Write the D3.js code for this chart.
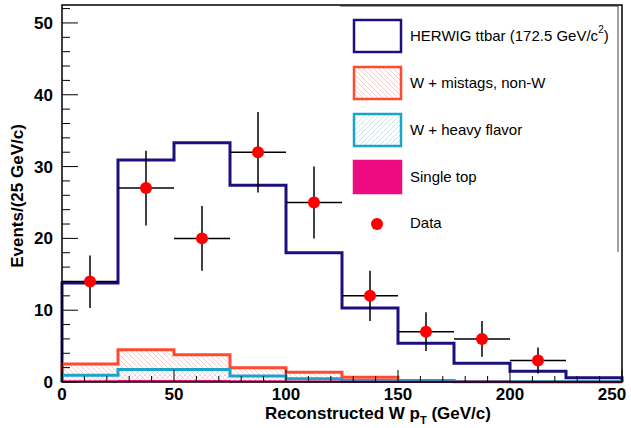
<!DOCTYPE html>
<html><head><meta charset="utf-8">
<script src="https://d3js.org/d3.v7.min.js"></script>
<style>body{margin:0;background:#fff}text{font-family:Helvetica,"Liberation Sans",Arial,sans-serif}</style>
</head><body><div id="chart"></div>
<script>
var binEdges = [0, 25, 50, 75, 100, 125, 150, 175, 200, 225, 250];
var singleTop = [0.1, 0.15, 0.15, 0.1, 0.08, 0.05, 0.03, 0.02, 0.01, 0.01];
var heavyFlavor = [0.85, 1.6, 1.6, 0.75, 0.37, 0.15, 0.07, 0.03, 0.02, 0.01];
var mistags = [1.55, 2.75, 2.05, 1.15, 0.9, 0.45, 0.1, 0.03, 0.02, 0.01];
var ttbar = [11.3, 26.4, 29.5, 25.4, 16.65, 9.65, 5.2, 2.52, 1.45, 0.57];
var dataX = [12.5, 37.5, 62.5, 87.5, 112.5, 137.5, 162.5, 187.5, 212.5];
var dataY = [14, 27, 20, 32, 25, 12, 7, 6, 3];
var errLo = [3.7, 5.2, 4.5, 5.6, 5, 3.5, 2.7, 2.5, 1.8];
var errHi = [3.6, 5.2, 4.5, 5.6, 5, 3.5, 2.7, 2.5, 1.8];
var xTicks = [0, 50, 100, 150, 200, 250];
var yTicks = [0, 10, 20, 30, 40, 50];

var W = 631, H = 428, L = 62, R = 622, T = 5, B = 382;
var svg = d3.select("#chart").append("svg").attr("width", W).attr("height", H);
var x = d3.scaleLinear().domain([0, 250]).range([L, R]);
var y = d3.scaleLinear().domain([0, 52.5]).range([B, T]);

// cumulative stacks
var s1 = singleTop, s2 = [], s3 = [], s4 = [];
for (var i = 0; i < s1.length; i++) {
    s2.push(s1[i] + heavyFlavor[i]);
    s3.push(s2[i] + mistags[i]);
    s4.push(s3[i] + ttbar[i]);
}

var defs = svg.append("defs");
function hatch(id, color, dir) {
    var p = defs.append("pattern").attr("id", id).attr("width", 5).attr("height", 5)
        .attr("patternUnits", "userSpaceOnUse");
    p.append("path").attr("d", dir > 0 ? "M0,5L5,0M-1,1L1,-1M4,6L6,4" : "M0,0L5,5M-1,4L1,6M4,-1L6,1")
        .attr("stroke", color).attr("stroke-width", 0.6);
}
hatch("hr", "#f7a8a0", -1);
hatch("hc", "#9fd6e8", 1);

function stepPath(vals) {
    var d = "M" + x(0) + "," + y(0);
    vals.forEach(function (v, i) {
        d += "L" + x(binEdges[i]) + "," + y(v) + "L" + x(binEdges[i + 1]) + "," + y(v);
    });
    d += "L" + x(250) + "," + y(0);
    return d;
}

// legend background first (histograms near its edge stay visible)
var lg = svg.append("g");
lg.append("rect").attr("x", 340).attr("y", 6).attr("width", 278).attr("height", 246).attr("fill", "#fff");
lg.append("path").attr("d", "M340,6H618V252").attr("fill", "none").attr("stroke", "#444");

svg.append("path").attr("d", stepPath(s4)).attr("fill", "none").attr("stroke", "#1a1080").attr("stroke-width", 3);
svg.append("path").attr("d", stepPath(s3)).attr("fill", "url(#hr)").attr("stroke", "#ff4a30").attr("stroke-width", 3);
svg.append("path").attr("d", stepPath(s2)).attr("fill", "url(#hc)").attr("stroke", "#1aa4c8").attr("stroke-width", 3);
svg.append("path").attr("d", stepPath(s1)).attr("fill", "#ee0a80").attr("stroke", "#ee0a80").attr("stroke-width", 2);

// data points
var g = svg.append("g");
dataX.forEach(function (d, i) {
    g.append("line").attr("x1", x(d - 12.5)).attr("x2", x(d + 12.5)).attr("y1", y(dataY[i])).attr("y2", y(dataY[i]))
        .attr("stroke", "#000").attr("stroke-width", 1.5);
    g.append("line").attr("x1", x(d)).attr("x2", x(d)).attr("y1", y(dataY[i] - errLo[i])).attr("y2", y(dataY[i] + errHi[i]))
        .attr("stroke", "#000").attr("stroke-width", 1.5);
    g.append("circle").attr("cx", x(d)).attr("cy", y(dataY[i])).attr("r", 6).attr("fill", "#ff0000");
});

// frame & ticks
svg.append("rect").attr("x", L).attr("y", T).attr("width", R - L).attr("height", B - T)
    .attr("fill", "none").attr("stroke", "#000").attr("stroke-width", 1.5);
d3.range(0, 251, 10).forEach(function (v) {
    var big = v % 50 === 0;
    svg.append("line").attr("x1", x(v)).attr("x2", x(v)).attr("y1", B).attr("y2", B - (big ? 12 : 6)).attr("stroke", "#000");
});
d3.range(0, 52.5, 2).forEach(function (v) {
    var big = v % 10 === 0;
    svg.append("line").attr("x1", L).attr("x2", L + (big ? 16 : 8)).attr("y1", y(v)).attr("y2", y(v)).attr("stroke", "#000");
});
xTicks.forEach(function (v) {
    svg.append("text").attr("x", Math.min(x(v), 612)).attr("y", 400).attr("text-anchor", "middle")
        .attr("font-size", 17).attr("font-weight", "bold").text(v);
});
yTicks.forEach(function (v) {
    svg.append("text").attr("x", 53).attr("y", y(v) + 6).attr("text-anchor", "end")
        .attr("font-size", 17).attr("font-weight", "bold").text(v);
});
var xl = svg.append("text").attr("x", 378).attr("y", 419).attr("text-anchor", "middle")
    .attr("font-size", 17).attr("font-weight", "bold");
xl.append("tspan").text("Reconstructed W p");
xl.append("tspan").attr("font-size", 11).attr("dy", 5).text("T");
xl.append("tspan").attr("dy", -5).text(" (GeV/c)");
svg.append("text").attr("transform", "translate(23,196) rotate(-90)").attr("text-anchor", "middle")
    .attr("font-size", 17).attr("font-weight", "bold").text("Events/(25 GeV/c)");

// legend entries
var items = [
    {fill: "#fff", stroke: "#1a1080", label: "HERWIG ttbar (172.5 GeV/c", sup: true},
    {fill: "url(#hr)", stroke: "#ff4a30", label: "W + mistags, non-W"},
    {fill: "url(#hc)", stroke: "#1aa4c8", label: "W + heavy flavor"},
    {fill: "#ee0a80", stroke: "#ee0a80", label: "Single top"}
];
items.forEach(function (it, i) {
    var cy = 36 + i * 47;
    lg.append("rect").attr("x", 354).attr("y", cy - 16).attr("width", 47).attr("height", 32)
        .attr("fill", it.fill).attr("stroke", it.stroke).attr("stroke-width", 2.5);
    var t = lg.append("text").attr("x", 410).attr("y", cy + 5).attr("font-size", 15).text(it.label);
    if (it.sup) {
        t.append("tspan").attr("font-size", 10).attr("dy", -8).text("2");
        t.append("tspan").attr("dy", 8).text(")");
    }
});
lg.append("circle").attr("cx", 377).attr("cy", 224).attr("r", 6).attr("fill", "#ff0000");
lg.append("text").attr("x", 410).attr("y", 228).attr("font-size", 15).text("Data");
</script></body></html>
